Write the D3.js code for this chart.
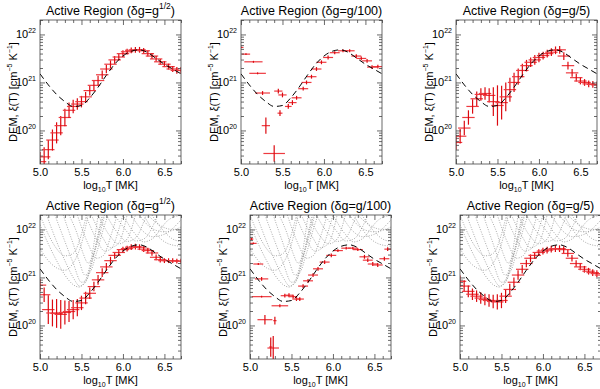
<!DOCTYPE html>
<html><head><meta charset="utf-8">
<script src="https://cdn.jsdelivr.net/npm/d3@7"></script>
<style>
body{margin:0;background:#fff}
svg{display:block}
text{font-family:"Liberation Sans",Arial,Helvetica,sans-serif;fill:#000}
</style>
</head><body>
<svg id="c" width="600" height="389"></svg>
<script>
// ---------- data ----------
const titleMain = ["Active Region (δg=g", "Active Region (δg=g/100", "Active Region (δg=g/5"];
const titleSup  = ["1/2", "", ""];
const xTicks = [5.0, 5.5, 6.0, 6.5];
const xMinor = [5.1,5.2,5.3,5.4,5.6,5.7,5.8,5.9,6.1,6.2,6.3,6.4,6.6,6.7];
const yTicks = [1e20, 1e21, 1e22];
const yMinor = [3e19,4e19,5e19,6e19,7e19,8e19,9e19,2e20,3e20,4e20,5e20,6e20,7e20,8e20,9e20,
                2e21,3e21,4e21,5e21,6e21,7e21,8e21,9e21,2e22];

// model DEM (dashed)
const modelT  = [5.0,5.1,5.2,5.3,5.4,5.5,5.6,5.7,5.8,5.9,6.0,6.1,6.2,6.3,6.4,6.5,6.6,6.7];
const modelEM = [21.18,20.95,20.75,20.6,20.5,20.52,20.68,20.9,21.15,21.38,21.55,21.65,21.68,21.62,21.5,21.38,21.28,21.18];

// regular temperature grid used by the dense solutions
const gridT = [5.00,5.05,5.10,5.15,5.20,5.25,5.30,5.35,5.40,5.45,5.50,5.55,5.60,5.65,5.70,5.75,5.80,5.85,
               5.90,5.95,6.00,6.05,6.10,6.15,6.20,6.25,6.30,6.35,6.40,6.45,6.50,6.55,6.60,6.65,6.70];
const gridErrT = 0.075;

// top-left: delta g = g^1/2
const tlEM  = [19.35,19.45,19.6,19.8,19.95,20.1,20.27,20.42,20.5,20.55,20.6,20.7,20.83,20.94,21.04,21.16,21.28,21.38,
               21.47,21.53,21.6,21.64,21.67,21.68,21.68,21.66,21.6,21.55,21.49,21.43,21.38,21.33,21.28,21.25,21.25];
const tlErr = [0.2,0.2,0.2,0.22,0.22,0.2,0.18,0.16,0.14,0.12,0.12,0.1,0.1,0.1,0.1,0.09,0.09,0.08,
               0.08,0.07,0.07,0.06,0.06,0.06,0.06,0.06,0.06,0.06,0.06,0.06,0.06,0.06,0.06,0.07,0.07];

// top-middle: delta g = g/100 (scattered)
const tmT    = [5.0,5.06,5.15,5.2,5.26,5.3,5.4,5.47,5.45,5.5,5.57,5.62,5.67,5.75,5.79,5.85,5.91,5.97,6.05,6.13,6.23,6.31,6.39,6.45,6.52,6.58,6.65];
const tmEM   = [21.73,21.59,21.43,21.19,20.78,20.1,19.52,20.36,20.82,20.74,20.5,20.58,20.68,20.87,21.0,21.12,21.28,21.42,21.52,21.62,21.66,21.66,21.55,21.5,21.45,21.32,21.33];
const tmErrT = [0.03,0.05,0.11,0.1,0.09,0.05,0.13,0.03,0.05,0.05,0.04,0.05,0.06,0.06,0.06,0.06,0.06,0.06,0.06,0.06,0.06,0.06,0.06,0.06,0.06,0.06,0.06];
const tmErrEM= [0.02,0.02,0.02,0.02,0.04,0.17,0.17,0.06,0.05,0.05,0.05,0.05,0.04,0.04,0.04,0.04,0.04,0.04,0.04,0.03,0.03,0.03,0.04,0.04,0.04,0.04,0.04];

// top-right: delta g = g/5
const trEM  = [19.75,19.88,20.05,20.27,20.5,20.66,20.75,20.77,20.73,20.6,20.52,20.58,20.7,20.85,21.0,21.12,21.25,21.35,
               21.42,21.47,21.52,21.56,21.6,21.63,21.67,21.68,21.55,21.35,21.2,21.1,21.03,21.0,20.97,20.96,20.95];
const trErr = [0.15,0.15,0.15,0.15,0.15,0.15,0.13,0.13,0.15,0.3,0.42,0.35,0.3,0.25,0.2,0.17,0.14,0.12,
               0.1,0.1,0.1,0.08,0.08,0.08,0.08,0.08,0.08,0.08,0.08,0.08,0.07,0.07,0.07,0.07,0.07];

// bottom-left: delta g = g^1/2 (with EM loci)
const blEM  = [20.84,20.64,20.33,20.26,20.25,20.23,20.27,20.29,20.33,20.37,20.47,20.57,20.67,20.81,20.95,21.1,21.22,21.35,
               21.46,21.52,21.58,21.6,21.63,21.64,21.63,21.59,21.56,21.51,21.42,21.37,21.35,21.35,21.35,21.34,21.34];
const blErr = [0.13,0.15,0.3,0.28,0.3,0.3,0.25,0.22,0.2,0.18,0.15,0.13,0.12,0.1,0.1,0.09,0.08,0.08,
               0.07,0.07,0.06,0.06,0.06,0.06,0.06,0.06,0.06,0.06,0.06,0.06,0.05,0.05,0.05,0.05,0.05];

// bottom-middle: delta g = g/100 (scattered)
const bmT    = [5.02,5.04,5.1,5.14,5.14,5.36,5.18,5.3,5.28,5.25,5.42,5.47,5.52,5.56,5.6,5.64,5.7,5.76,5.82,5.9,5.98,6.06,6.16,6.24,6.3,6.38,6.42,6.48,6.54,6.62,6.66];
const bmEM   = [21.8,21.71,21.28,20.97,20.6,20.41,20.12,20.1,19.53,19.55,20.62,20.63,20.6,20.55,20.55,20.82,20.93,21.05,21.18,21.32,21.46,21.56,21.61,21.61,21.58,21.43,21.36,21.28,21.26,21.39,21.59];
const bmErrT = [0.02,0.04,0.06,0.08,0.12,0.1,0.09,0.02,0.07,0.02,0.05,0.05,0.05,0.05,0.05,0.06,0.06,0.06,0.06,0.06,0.06,0.06,0.06,0.06,0.06,0.06,0.06,0.06,0.06,0.06,0.04];
const bmErrEM= [0.02,0.02,0.02,0.04,0.02,0.03,0.1,0.08,0.25,0.2,0.04,0.04,0.04,0.04,0.04,0.04,0.04,0.04,0.04,0.04,0.04,0.03,0.03,0.03,0.03,0.04,0.04,0.04,0.04,0.04,0.04];

// bottom-right: delta g = g/5
const brEM  = [20.92,20.82,20.71,20.65,20.61,20.57,20.54,20.52,20.5,20.49,20.52,20.61,20.75,20.9,21.05,21.17,21.29,21.4,
               21.46,21.52,21.55,21.57,21.59,21.6,21.6,21.58,21.5,21.4,21.29,21.22,21.17,21.13,21.1,21.08,21.05];
const brErr = [0.12,0.12,0.12,0.12,0.12,0.12,0.12,0.13,0.14,0.16,0.16,0.14,0.12,0.1,0.1,0.09,0.08,0.08,
               0.07,0.07,0.07,0.07,0.07,0.07,0.07,0.07,0.07,0.07,0.07,0.07,0.07,0.07,0.07,0.07,0.07];

// EM loci curves (grey dotted, bottom row) : [logT, log EM]
const loci = [
 [[5.0,22.1],[5.1,21.7],[5.2,21.35],[5.3,21.05],[5.4,20.85],[5.47,20.8],[5.55,20.95],[5.62,21.4],[5.7,22.3]],
 [[5.08,22.3],[5.2,21.75],[5.3,21.35],[5.4,21.0],[5.48,20.82],[5.55,20.9],[5.62,21.3],[5.7,21.9],[5.75,22.3]],
 [[5.18,22.3],[5.3,21.75],[5.4,21.3],[5.5,20.9],[5.56,20.95],[5.64,21.4],[5.72,22.0],[5.77,22.3]],
 [[5.28,22.3],[5.38,21.8],[5.47,21.35],[5.54,21.05],[5.6,21.1],[5.68,21.5],[5.78,22.1],[5.82,22.3]],
 [[5.0,21.6],[5.1,21.35],[5.2,21.2],[5.3,21.15],[5.4,21.3],[5.5,21.7],[5.58,22.3]],
 [[5.35,22.3],[5.45,21.9],[5.52,21.5],[5.58,21.3],[5.65,21.5],[5.72,21.9],[5.78,22.3]],
 [[5.45,22.3],[5.58,21.7],[5.68,21.4],[5.76,21.45],[5.86,21.9],[5.93,22.3]],
 [[5.55,22.3],[5.68,21.8],[5.78,21.55],[5.86,21.6],[5.95,22.0],[6.0,22.3]],
 [[5.62,22.3],[5.75,21.85],[5.85,21.62],[5.95,21.72],[6.05,22.3]],
 [[5.7,22.3],[5.85,21.85],[5.95,21.7],[6.05,21.8],[6.15,22.3]],
 [[5.8,22.3],[5.95,21.9],[6.05,21.75],[6.15,21.82],[6.28,22.3]],
 [[5.9,22.3],[6.05,21.95],[6.15,21.76],[6.25,21.8],[6.42,22.3]],
 [[6.0,22.3],[6.15,21.9],[6.25,21.74],[6.35,21.8],[6.55,22.2],[6.7,22.3]],
 [[6.1,22.3],[6.25,21.95],[6.35,21.85],[6.5,21.9],[6.7,22.2]],
 [[6.2,22.3],[6.35,22.02],[6.5,21.95],[6.7,22.05]],
 [[6.3,22.3],[6.45,22.08],[6.6,22.0],[6.7,22.0]],
 [[6.25,22.3],[6.4,21.9],[6.55,21.7],[6.7,21.65]],
 [[6.35,22.3],[6.5,21.95],[6.6,21.8],[6.7,21.75]],
 [[5.0,22.3],[5.1,21.9],[5.2,21.6],[5.3,21.45],[5.4,21.5],[5.5,21.9],[5.56,22.3]]
];

// ---------- layout ----------
const panelW = 141, panelH = 144;
const panels = [
  {x:40,  y:20,  title:0, T:gridT, EM:tlEM, eT:null, eEM:tlErr, loci:false},
  {x:241, y:20,  title:1, T:tmT,   EM:tmEM, eT:tmErrT, eEM:tmErrEM, loci:false},
  {x:456, y:20,  title:2, T:gridT, EM:trEM, eT:null, eEM:trErr, loci:false},
  {x:40,  y:215, title:0, T:gridT, EM:blEM, eT:null, eEM:blErr, loci:true},
  {x:250, y:215, title:1, T:bmT,   EM:bmEM, eT:bmErrT, eEM:bmErrEM, loci:true},
  {x:460, y:215, title:2, T:gridT, EM:brEM, eT:null, eEM:brErr, loci:true}
];

const svg = d3.select("#c");
const axisCol = "#444";
const x = d3.scaleLinear().domain([5.0, 6.7]).range([0, panelW]);
const y = d3.scaleLog().domain([2e19, 2e22]).range([panelH, 0]);
const p10 = v => Math.pow(10, v);

function rich(sel, parts) {
  parts.forEach(p => {
    const ts = sel.append("tspan").text(p.t);
    if (p.fs) ts.attr("font-size", p.fs);
    if (p.dy) ts.attr("dy", p.dy);
  });
}

panels.forEach((P, i) => {
  const g = svg.append("g").attr("transform", `translate(${P.x},${P.y})`);
  const cid = "clip" + i;
  g.append("clipPath").attr("id", cid).append("rect")
    .attr("x", 0).attr("y", 0).attr("width", panelW).attr("height", panelH);
  const plot = g.append("g").attr("clip-path", `url(#${cid})`);

  // EM loci
  if (P.loci) {
    const ll = d3.line().x(d => x(d[0])).y(d => y(p10(d[1]))).curve(d3.curveMonotoneX);
    loci.forEach(L => {
      plot.append("path").attr("d", ll(L)).attr("fill", "none")
        .attr("stroke", "#939393").attr("stroke-width", 0.8)
        .attr("stroke-dasharray", "1,1.5");
    });
  }

  // error bars
  const n = P.T.length;
  for (let k = 0; k < n; k++) {
    const t = P.T[k], e = P.EM[k];
    const dt = P.eT ? P.eT[k] : gridErrT;
    const de = P.eEM[k];
    plot.append("line")
      .attr("x1", x(t - dt)).attr("x2", x(t + dt))
      .attr("y1", y(p10(e))).attr("y2", y(p10(e)))
      .attr("stroke", "#ee3a40").attr("stroke-width", 1.2);
    plot.append("line")
      .attr("x1", x(t)).attr("x2", x(t))
      .attr("y1", y(p10(e - de))).attr("y2", y(p10(e + de)))
      .attr("stroke", "#dc0a10").attr("stroke-width", 1.2);
  }

  // model dashed
  const ml = d3.line().x(d => x(d[0])).y(d => y(p10(d[1]))).curve(d3.curveMonotoneX);
  plot.append("path").attr("d", ml(modelT.map((t, k) => [t, modelEM[k]])))
    .attr("fill", "none").attr("stroke", "#000").attr("stroke-width", 1)
    .attr("stroke-dasharray", "6,4");

  // axes
  const ax = g.append("g").attr("class", "axes");
  ax.append("g").attr("transform", `translate(0,${panelH})`)
    .call(d3.axisBottom(x).tickValues(xTicks).tickSizeInner(-5).tickSizeOuter(0)
      .tickPadding(4).tickFormat(d3.format(".1f")));
  ax.append("g").attr("transform", `translate(0,${panelH})`)
    .call(d3.axisBottom(x).tickValues(xMinor).tickSizeInner(-3).tickSizeOuter(0).tickFormat(""));
  ax.append("g")
    .call(d3.axisTop(x).tickValues(xTicks).tickSizeInner(-5).tickSizeOuter(0).tickFormat(""));
  ax.append("g")
    .call(d3.axisTop(x).tickValues(xMinor).tickSizeInner(-3).tickSizeOuter(0).tickFormat(""));
  ax.append("g")
    .call(d3.axisLeft(y).tickValues(yTicks).tickSizeInner(-5).tickSizeOuter(0).tickFormat(""));
  ax.append("g")
    .call(d3.axisLeft(y).tickValues(yMinor).tickSizeInner(-3).tickSizeOuter(0).tickFormat(""));
  ax.append("g").attr("transform", `translate(${panelW},0)`)
    .call(d3.axisRight(y).tickValues(yTicks).tickSizeInner(-5).tickSizeOuter(0).tickFormat(""));
  ax.append("g").attr("transform", `translate(${panelW},0)`)
    .call(d3.axisRight(y).tickValues(yMinor).tickSizeInner(-3).tickSizeOuter(0).tickFormat(""));
  ax.selectAll(".domain").remove();
  ax.selectAll(".tick line").attr("stroke", axisCol).attr("stroke-width", 0.8);
  ax.selectAll(".tick text").attr("font-size", 11).attr("font-family", '"Liberation Sans",Arial,sans-serif').attr("fill", "#000");
  g.append("rect").attr("x", 0).attr("y", 0).attr("width", panelW).attr("height", panelH)
    .attr("fill", "none").attr("stroke", axisCol).attr("stroke-width", 0.8);

  // y tick labels 10^n
  yTicks.forEach(v => {
    const t = g.append("text").attr("x", -4).attr("y", y(v) + 4)
      .attr("text-anchor", "end").attr("font-size", 11);
    rich(t, [{t: "10"}, {t: String(Math.round(Math.log10(v))), fs: 7, dy: -5}]);
  });

  // y axis title
  const yl = g.append("text")
    .attr("transform", `translate(-23,${panelH / 2}) rotate(-90)`)
    .attr("text-anchor", "middle").attr("font-size", 11);
  rich(yl, [{t: "DEM, ξ(T) [cm"}, {t: "−5", fs: 7, dy: -5}, {t: " K", dy: 5},
            {t: "−1", fs: 7, dy: -5}, {t: "]", dy: 5}]);

  // x axis title
  const xl = g.append("text").attr("x", panelW / 2).attr("y", panelH + 25)
    .attr("text-anchor", "middle").attr("font-size", 11);
  rich(xl, [{t: "log"}, {t: "10", fs: 7, dy: 3}, {t: "T [MK]", dy: -3}]);

  // title
  const tt = g.append("text").attr("x", panelW / 2).attr("y", -5)
    .attr("text-anchor", "middle").attr("font-size", 12.5);
  const parts = [{t: titleMain[P.title]}];
  if (titleSup[P.title]) {
    parts.push({t: titleSup[P.title], fs: 8.5, dy: -6});
    parts.push({t: ")", dy: 6});
  } else {
    parts.push({t: ")"});
  }
  rich(tt, parts);
});
</script>
</body></html>
